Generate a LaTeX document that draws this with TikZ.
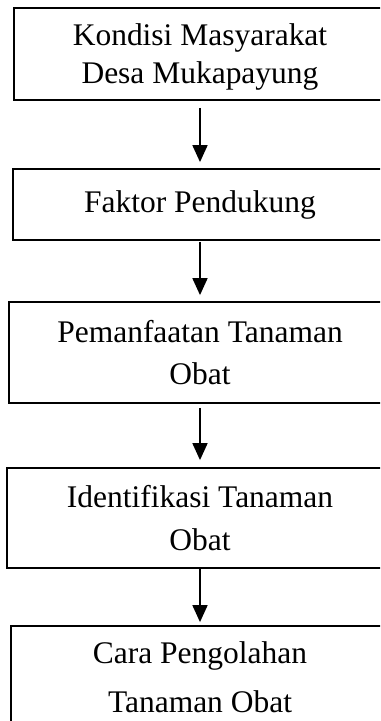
\documentclass[tikz,border=0pt]{standalone}
\usepackage{fontspec}
\setmainfont{Liberation Serif}
\usepackage{tikz}
\usetikzlibrary{arrows.meta,positioning,calc}
\tikzset{
  kotak/.style={draw=black, line width=1.8bp, inner sep=0pt, align=center,
    font=\fontsize{31.6}{38}\selectfont},
  panah/.style={-{Triangle[width=15bp,length=17bp]}, line width=1.8bp},
}

\begin{document}
\begin{tikzpicture}[x=1bp,y=-1bp]
  \path[use as bounding box, clip] (0,0) rectangle (380,721);
  \node[kotak, minimum width=372bp, minimum height=92bp, text depth=0pt] (kondisi) at (200,54)
    {Kondisi Masyarakat\\Desa Mukapayung};
  \node[kotak, minimum width=374bp, minimum height=71bp] (faktor) at (200,204.5)
    {Faktor Pendukung};
  \node[kotak, minimum width=382bp, minimum height=101bp] (manfaat) at (200,352.5)
    {Pemanfaatan Tanaman\\[4bp]Obat};
  \node[kotak, minimum width=386bp, minimum height=100bp] (identif) at (200,518)
    {Identifikasi Tanaman\\[5bp]Obat};
  \node[kotak, minimum width=378bp, minimum height=103bp] (olah) at (200,677.5)
    {Cara Pengolahan\\[11bp]Tanaman Obat};
  % panah antar kotak
  \draw[panah, shorten <=7bp, shorten >=6bp] (kondisi) -- (faktor);
  \draw[panah, shorten <=1bp, shorten >=6bp] (faktor) -- (manfaat);
  \draw[panah, shorten <=4bp, shorten >=7bp] (manfaat) -- (identif);
  \draw[panah, shorten >=3bp] (identif) -- (olah);
\end{tikzpicture}
\end{document}
